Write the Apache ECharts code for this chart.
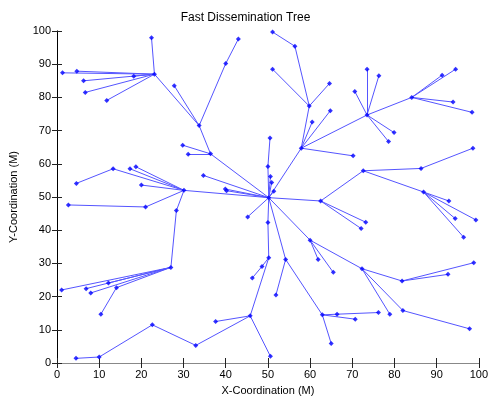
<!DOCTYPE html>
<html>
<head>
<meta charset="utf-8">
<script src="https://cdn.jsdelivr.net/npm/echarts@6/dist/echarts.min.js"></script>
<style>
  html, body { margin: 0; padding: 0; background: #fff; }
  #chart { width: 491px; height: 401px; }
</style>
</head>
<body>
<div id="chart"></div>
<script>
// Node coordinates (metres) and each node's parent in the dissemination tree (-1 = root)
const nodeX = [
  50.2, 30.1, 36.4, 33.7, 23.1, 22.4, 18.2, 4.7, 1.3, 6.3,
  6.7, 11.8, 27.8, 40.0, 43.0, 29.8, 31.1, 34.7, 39.9, 40.2,
  50.0, 50.5, 50.6, 50.9, 51.4, 13.3, 4.6, 17.3, 18.7, 20.0,
  28.3, 27.0, 21.0, 2.7, 12.2, 6.9, 1.1, 8.0, 14.1, 10.4,
  50.0, 50.2, 48.6, 46.3, 45.8, 37.6, 32.9, 22.6, 10.0, 4.5,
  50.6, 45.2, 57.9, 59.8, 56.4, 51.1, 51.1, 64.6, 60.5, 64.8,
  70.2, 73.5, 73.5, 76.3, 70.6, 79.9, 78.6, 84.1, 91.3, 94.5,
  93.9, 98.4, 62.5, 73.2, 72.1, 72.6, 86.3, 98.6, 86.9, 92.9,
  94.4, 96.4, 99.3, 60.0, 61.9, 65.5, 72.3, 81.8, 92.7, 98.8,
  78.9, 82.0, 97.8, 54.2, 51.9, 62.9, 66.4, 76.2, 70.7, 65.0
];
const nodeY = [
  49.8, 52.0, 63.0, 71.5, 87.0, 98.0, 86.4, 87.9, 87.4, 85.0,
  81.5, 79.1, 83.5, 90.2, 97.6, 65.6, 62.9, 56.5, 52.4, 51.9,
  59.2, 67.8, 56.2, 54.4, 51.7, 58.5, 54.1, 58.5, 59.1, 53.6,
  45.9, 28.8, 47.0, 47.6, 24.1, 22.4, 22.0, 21.1, 22.7, 14.7,
  42.3, 31.7, 29.1, 25.6, 14.2, 12.5, 5.3, 11.5, 1.8, 1.4,
  2.0, 44.0, 64.7, 77.4, 95.4, 99.7, 88.5, 84.2, 72.6, 76.0,
  62.4, 74.7, 88.5, 86.5, 81.8, 69.4, 66.7, 80.0, 86.7, 88.5,
  78.6, 75.5, 48.8, 42.4, 40.5, 57.9, 58.6, 64.7, 51.5, 48.8,
  43.5, 37.9, 43.1, 37.0, 31.2, 27.3, 28.4, 24.7, 26.7, 30.2,
  14.7, 15.8, 10.3, 31.2, 20.5, 14.5, 14.7, 15.2, 13.2, 5.9
];
const parent = [
  -1, 0, 0, 2, 3, 4, 4, 4, 4, 4,
  4, 4, 3, 3, 13, 2, 2, 0, 0, 0,
  0, 20, 0, 0, 0, 1, 25, 1, 1, 1,
  1, 30, 1, 32, 31, 31, 31, 31, 31, 38,
  0, 40, 41, 42, 41, 44, 44, 46, 47, 48,
  44, 0, 0, 52, 53, 54, 53, 53, 52, 52,
  52, 52, 61, 61, 61, 61, 61, 61, 67, 67,
  67, 67, 0, 72, 72, 72, 75, 76, 75, 78,
  78, 78, 78, 0, 83, 83, 83, 86, 87, 87,
  86, 86, 91, 0, 93, 93, 95, 96, 95, 95
];
const axisTicks = [0, 10, 20, 30, 40, 50, 60, 70, 80, 90, 100];

const nodes = nodeX.map((x, i) => [x, nodeY[i]]);
const edges = [];
parent.forEach((p, i) => {
  if (p >= 0) edges.push({ coords: [nodes[p], nodes[i]] });
});

const font = 'Liberation Sans, Arial, sans-serif';
function axis(extra, lineColor) {
  return Object.assign({
    type: 'value', min: axisTicks[0], max: axisTicks[axisTicks.length - 1], interval: 10,
    axisLine: { show: true, lineStyle: { color: lineColor, width: 1 } },
    axisTick: { show: true, inside: true, length: 5, lineStyle: { color: '#222' } },
    splitLine: { show: false },
    axisLabel: { color: '#000', fontSize: 11, fontFamily: font, margin: 6 },
    nameTextStyle: { color: '#000', fontSize: 11, fontFamily: font }
  }, extra);
}

const chart = echarts.init(document.getElementById('chart'), null, { renderer: 'canvas' });
chart.setOption({
  animation: false,
  backgroundColor: '#fff',
  title: {
    text: 'Fast Dissemination Tree', left: 'center', top: 7,
    textStyle: { fontSize: 12, fontWeight: 'normal', color: '#000', fontFamily: font }
  },
  grid: { left: 56, right: 10, top: 31, bottom: 35 },
  xAxis: [
    axis({ position: 'bottom', name: 'X-Coordination (M)', nameLocation: 'middle', nameGap: 22 }, '#333'),
    axis({ position: 'top', axisLabel: { show: false } }, '#888')
  ],
  yAxis: [
    axis({ position: 'left', name: 'Y-Coordination (M)', nameLocation: 'middle', nameGap: 38 }, '#777'),
    axis({ position: 'right', axisLabel: { show: false } }, '#000')
  ],
  series: [
    {
      type: 'lines', coordinateSystem: 'cartesian2d', xAxisIndex: 0, yAxisIndex: 0,
      data: edges, silent: true,
      lineStyle: { color: '#5555ff', width: 1, opacity: 1 }
    },
    {
      type: 'scatter', xAxisIndex: 0, yAxisIndex: 0,
      data: nodes, symbol: 'diamond', symbolSize: 5,
      itemStyle: { color: '#0000ff' }
    }
  ]
});
</script>
</body>
</html>
